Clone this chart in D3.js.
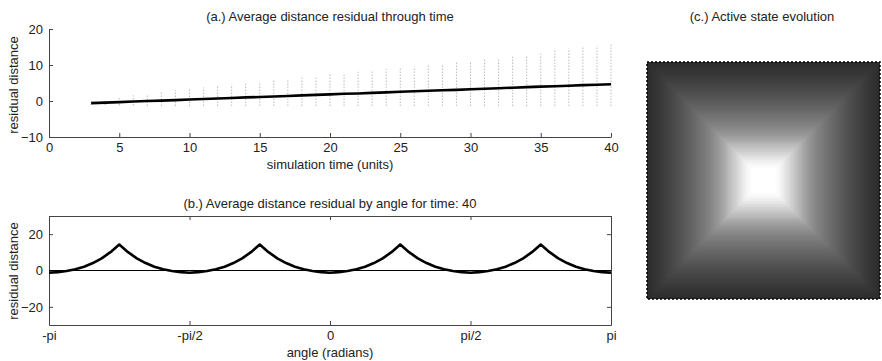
<!DOCTYPE html>
<html>
<head>
<meta charset="utf-8">
<script src="https://cdn.jsdelivr.net/npm/d3@7"></script>
<style>
  body { margin: 0; background: #fff; }
  text { font-family: 'Liberation Sans', Arial, sans-serif; fill: #222; }
</style>
</head>
<body>
<svg id="chart" width="882" height="361"></svg>
<script>
// panel (a): mean residual per time step, with spread (dotted bars)
const times = d3.range(3, 41)
const meanResid = [-0.6, -0.45, -0.3, -0.15, 0.0, 0.1, 0.25, 0.4, 0.55, 0.7, 0.85, 1.0, 1.1, 1.25, 1.4, 1.55, 1.7, 1.85, 2.0, 2.1,
  2.25, 2.4, 2.55, 2.7, 2.85, 3.0, 3.1, 3.25, 3.4, 3.55, 3.7, 3.85, 4.0, 4.1, 4.25, 4.4, 4.5, 4.65]
const spreadTop = [0, 0.5, 1.0, 1.5, 2.0, 2.5, 3.0, 3.4, 3.8, 4.2, 4.6, 5.0, 5.4, 5.8, 6.2, 6.6, 6.9, 7.3, 7.7, 8.1,
  8.5, 8.9, 9.2, 9.6, 10.0, 10.4, 10.7, 11.1, 11.5, 11.9, 12.3, 12.7, 13.1, 14.2, 14.6, 15.0, 15.4, 16.0]
const spreadBottom = [-1.0, -1.1, -1.2, -1.2, -1.3, -1.3, -1.3, -1.3, -1.3, -1.3, -1.3, -1.3, -1.3, -1.3, -1.3, -1.3, -1.3, -1.3, -1.3, -1.3,
  -1.3, -1.3, -1.3, -1.3, -1.3, -1.3, -1.3, -1.3, -1.3, -1.3, -1.3, -1.3, -1.3, -1.3, -1.3, -1.3, -1.3, -1.3]
const timeTicks = [0, 5, 10, 15, 20, 25, 30, 35, 40]
const residTicksA = [-10, 0, 10, 20]

// panel (b): residual by angle at time 40, sampled every pi/32 from -pi to pi
const angles = d3.range(65).map(function (i) { return -Math.PI + i * Math.PI / 32 })
const angleResid = [
  -1.2, -0.9, -0.3, 0.7, 2.1, 4.1, 6.7, 10.1, 14.3, 10.1, 6.7, 4.1, 2.1, 0.7, -0.3, -0.9,
  -1.2, -0.9, -0.3, 0.7, 2.1, 4.1, 6.7, 10.1, 14.3, 10.1, 6.7, 4.1, 2.1, 0.7, -0.3, -0.9,
  -1.2, -0.9, -0.3, 0.7, 2.1, 4.1, 6.7, 10.1, 14.3, 10.1, 6.7, 4.1, 2.1, 0.7, -0.3, -0.9,
  -1.2, -0.9, -0.3, 0.7, 2.1, 4.1, 6.7, 10.1, 14.3, 10.1, 6.7, 4.1, 2.1, 0.7, -0.3, -0.9,
  -1.2]
const angleTicks = [-Math.PI, -Math.PI / 2, 0, Math.PI / 2, Math.PI]
const angleTickLabels = ['-pi', '-pi/2', '0', 'pi/2', 'pi']
const residTicksB = [-20, 0, 20]

// panel (c): activity level by ring (Chebyshev distance from centre cell), 0 = centre
const ringActivity = [100, 100, 100, 100, 100, 99.8, 99.3, 98.2, 96.5, 94.3,
  91.8, 88.9, 85.8, 82.6, 79.4, 76.3, 73.4, 70.5, 67.7, 64.4,
  61.0, 58.0, 55.2, 52.5, 50.1, 47.8, 45.6, 43.6, 41.7, 39.8,
  38.1, 36.4, 34.8, 33.3, 31.7, 30.2, 28.8, 27.3, 25.9, 24.6,
  23.2, 21.9, 20.5, 19.1, 17.8, 16.5, 15.3, 14.0, 12.9, 11.8,
  10.7, 9.6, 8.5, 7.4, 6.3, 5.3, 4.3, 3.4, 2.5, 1.6, 0.8]

let svg = d3.select('#chart')
let fontSize = '13px'

function label (x, y, t, rot) {
  let el = svg.append('text')
    .attr('text-anchor', 'middle')
    .attr('font-size', fontSize)
    .text(t)
  if (rot) el.attr('transform', 'translate(' + x + ',' + y + ') rotate(-90)')
  else el.attr('x', x).attr('y', y)
  return el
}

function styleAxis (g) {
  g.selectAll('path, line').attr('stroke', '#444').attr('stroke-width', 1)
  g.selectAll('text').attr('font-size', fontSize).attr('font-family', null).attr('fill', '#222')
}

// ----------------------------------- panel (a)
let xA = d3.scaleLinear().domain([0, 40]).range([49, 611])
let yA = d3.scaleLinear().domain([-10, 20]).range([137, 29])

label(330, 21, '(a.) Average distance residual through time')
label(330, 169, 'simulation time (units)')
label(18, 85, 'residual distance', true)

svg.append('g').selectAll('line')
  .data(times)
  .enter()
  .append('line')
  .attr('x1', function (d) { return xA(d) })
  .attr('x2', function (d) { return xA(d) })
  .attr('y1', function (d, i) { return yA(spreadBottom[i]) })
  .attr('y2', function (d, i) { return yA(spreadTop[i]) })
  .attr('stroke', '#999')
  .attr('stroke-width', 1)
  .attr('stroke-dasharray', '1,2')

svg.append('g').attr('transform', 'translate(0,137)')
  .call(d3.axisBottom(xA).tickValues(timeTicks).tickSize(-4).tickSizeOuter(0).tickPadding(6))
  .call(styleAxis)
svg.append('g').attr('transform', 'translate(49,0)')
  .call(d3.axisLeft(yA).tickValues(residTicksA).tickSize(-4).tickSizeOuter(0).tickPadding(6))
  .call(styleAxis)

svg.append('path')
  .datum(times)
  .attr('d', d3.line()
    .x(function (d) { return xA(d) })
    .y(function (d, i) { return yA(meanResid[i]) }))
  .attr('fill', 'none')
  .attr('stroke', '#000')
  .attr('stroke-width', 2.6)

// ----------------------------------- panel (b)
let xB = d3.scaleLinear().domain([-Math.PI, Math.PI]).range([49, 611])
let yB = d3.scaleLinear().domain([-30, 30]).range([325, 216])

label(330, 208, '(b.) Average distance residual by angle for time: 40')
label(330, 357, 'angle (radians)')
label(18, 271, 'residual distance', true)

svg.append('g').attr('transform', 'translate(0,325)')
  .call(d3.axisBottom(xB).tickValues(angleTicks).tickSize(-4).tickSizeOuter(0).tickPadding(6)
    .tickFormat(function (d, i) { return angleTickLabels[i] }))
  .call(styleAxis)
svg.append('g').attr('transform', 'translate(0,216)')
  .call(d3.axisTop(xB).tickValues(angleTicks).tickSize(-4).tickSizeOuter(0).tickFormat(''))
  .call(styleAxis)
svg.append('g').attr('transform', 'translate(49,0)')
  .call(d3.axisLeft(yB).tickValues(residTicksB).tickSize(-4).tickSizeOuter(0).tickPadding(6))
  .call(styleAxis)
svg.append('g').attr('transform', 'translate(611,0)')
  .call(d3.axisRight(yB).tickValues(residTicksB).tickSize(-4).tickSizeOuter(0).tickFormat(''))
  .call(styleAxis)

svg.append('line')
  .attr('x1', xB(-Math.PI)).attr('x2', xB(Math.PI))
  .attr('y1', yB(0)).attr('y2', yB(0))
  .attr('stroke', '#000')
  .attr('stroke-width', 1.2)

svg.append('path')
  .datum(angles)
  .attr('d', d3.line()
    .x(function (d) { return xB(d) })
    .y(function (d, i) { return yB(angleResid[i]) }))
  .attr('fill', 'none')
  .attr('stroke', '#000')
  .attr('stroke-width', 2.6)
  .attr('stroke-linejoin', 'round')

// ----------------------------------- panel (c)
label(762, 21, '(c.) Active state evolution')

// each ring is a square spanning cells [n - r, n + r]; draw outermost first
let nRing = ringActivity.length - 1
let xC = d3.scaleLinear().domain([0, 2 * nRing + 1]).range([647, 880])
let yC = d3.scaleLinear().domain([0, 2 * nRing + 1]).range([62, 299])
let grey = d3.scaleLinear().domain([0, 100]).range(['#2b2b2b', '#ffffff'])

let rings = d3.range(nRing, -1, -1)
svg.append('g')
  .selectAll('rect')
  .data(rings)
  .enter()
  .append('rect')
  .attr('x', function (r) { return xC(nRing - r) })
  .attr('y', function (r) { return yC(nRing - r) })
  .attr('width', function (r) { return xC(nRing + r + 1) - xC(nRing - r) })
  .attr('height', function (r) { return yC(nRing + r + 1) - yC(nRing - r) })
  .attr('fill', function (r) { return grey(ringActivity[r]) })

svg.append('rect')
  .attr('x', 647).attr('y', 62)
  .attr('width', 233).attr('height', 237)
  .attr('fill', 'none')
  .attr('stroke', '#000')
  .attr('stroke-width', 1.5)
  .attr('stroke-dasharray', '2,2')
</script>
</body>
</html>
